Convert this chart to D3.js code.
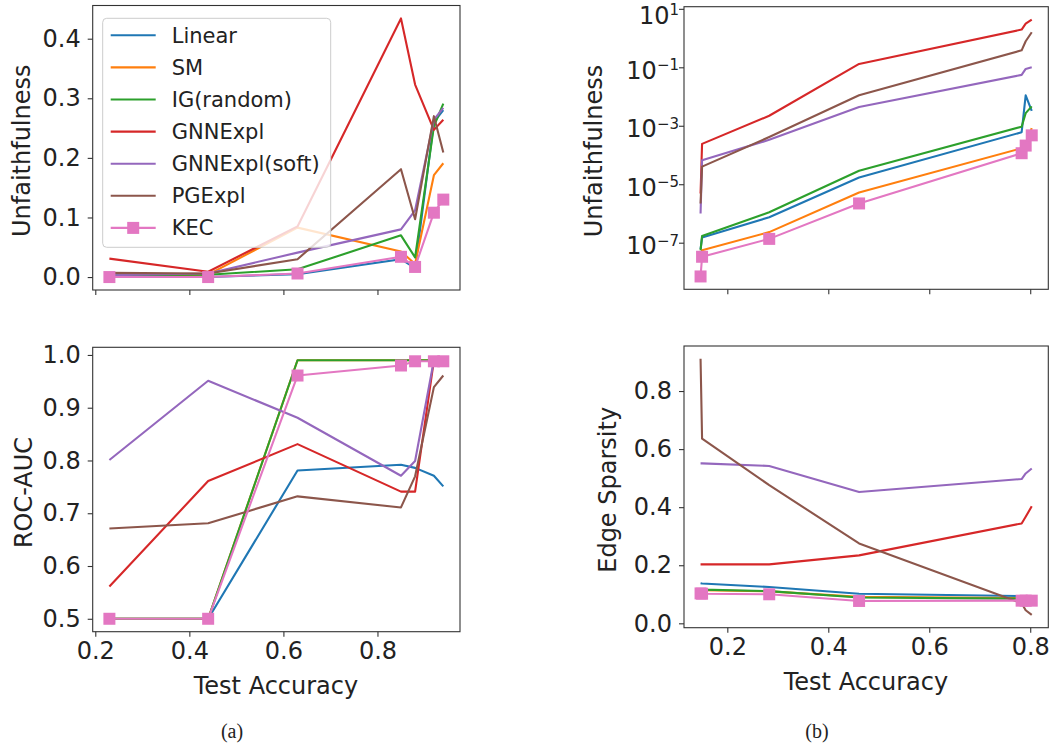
<!DOCTYPE html>
<html>
<head>
<meta charset="utf-8">
<script src="https://cdn.jsdelivr.net/npm/d3@7"></script>
<style>
  body { margin: 0; background: #fff; }
  text { font-family: "DejaVu Sans", sans-serif; fill: #222; }
</style>
</head>
<body>
<div id="chart"></div>
<script>
const methods = ["Linear", "SM", "IG(random)", "GNNExpl", "GNNExpl(soft)", "PGExpl", "KEC"];
const colors = ["#1f77b4", "#ff7f0e", "#2ca02c", "#d62728", "#9467bd", "#8c564b", "#e377c2"];

// test accuracy (x) for each setting
const accA = [0.23, 0.44, 0.63, 0.85, 0.88, 0.92, 0.94];
const accB = [0.147, 0.150, 0.283, 0.461, 0.783, 0.791, 0.803];

// one row per method, same order as `methods`
const unfaithA = [
  [0.0, 0.0, 0.005, 0.030, 0.015, 0.26, 0.28],
  [0.002, 0.004, 0.083, 0.043, 0.022, 0.171, 0.191],
  [0.003, 0.004, 0.013, 0.070, 0.033, 0.253, 0.291],
  [0.031, 0.009, 0.085, 0.434, 0.323, 0.247, 0.264],
  [0.003, 0.006, 0.041, 0.080, 0.112, 0.264, 0.284],
  [0.007, 0.006, 0.030, 0.181, 0.097, 0.270, 0.209],
  [0.0, 0.0, 0.006, 0.034, 0.017, 0.108, 0.130]
];
const rocA = [
  [0.5, 0.5, 0.781, 0.792, 0.786, 0.771, 0.751],
  [0.5, 0.5, 0.99, 0.99, 0.99, 0.99, 0.99],
  [0.5, 0.5, 0.99, 0.99, 0.99, 0.99, 0.99],
  [0.561, 0.761, 0.831, 0.741, 0.741, 0.99, 0.99],
  [0.801, 0.951, 0.881, 0.771, 0.799, 0.99, 0.99],
  [0.671, 0.681, 0.732, 0.711, 0.77, 0.939, 0.961],
  [0.5, 0.5, 0.961, 0.98, 0.988, 0.988, 0.988]
];
const unfaithB = [
  [6e-8, 1.5e-7, 7.4e-7, 1.7e-5, 6.0e-4, 1.1e-2, 3.2e-3],
  [2.2e-8, 5.5e-8, 2.3e-7, 5.2e-6, 1.7e-4, 2.3e-4, 8.3e-4],
  [5.5e-8, 1.7e-7, 1.1e-6, 2.9e-5, 9.3e-4, 2.7e-3, 4.6e-3],
  [4.8e-6, 2.4e-4, 2.2e-3, 0.13, 1.95, 3.1, 4.3],
  [1.0e-6, 6.6e-5, 3.3e-4, 4.4e-3, 0.055, 0.088, 0.10],
  [2.2e-6, 4.0e-5, 4.1e-4, 0.011, 0.38, 0.78, 1.58],
  [7.0e-9, 3.3e-8, 1.35e-7, 2.2e-6, 1.15e-4, 2.1e-4, 4.7e-4]
];
const sparsB = [
  [0.138, 0.137, 0.125, 0.102, 0.094, 0.094, 0.093],
  [0.115, 0.114, 0.110, 0.091, 0.087, 0.087, 0.086],
  [0.117, 0.116, 0.111, 0.089, 0.085, 0.085, 0.084],
  [0.203, 0.203, 0.203, 0.234, 0.344, 0.367, 0.403],
  [0.551, 0.551, 0.542, 0.452, 0.497, 0.516, 0.533],
  [0.911, 0.636, 0.476, 0.275, 0.069, 0.045, 0.029],
  [0.103, 0.102, 0.100, 0.077, 0.078, 0.078, 0.078]
];

const xTicks = [0.2, 0.4, 0.6, 0.8];
const logTicks = [1e1, 1e-1, 1e-3, 1e-5, 1e-7];

const W = 1051, H = 749;
const svg = d3.select("#chart").append("svg").attr("width", W).attr("height", H);

// pad a domain like matplotlib's 5% auto margins
const pad = ext => {
  const m = (ext[1] - ext[0]) * 0.05;
  return [ext[0] - m, ext[1] + m];
};
const padLog = ext => {
  const l0 = Math.log10(ext[0]), l1 = Math.log10(ext[1]);
  const m = (l1 - l0) * 0.05;
  return [Math.pow(10, l0 - m), Math.pow(10, l1 + m)];
};

const drawPanel = ({ box, xs, ys, log, yTicks, showX, yLabel, legend }) => {
  const g = svg.append("g");
  const x = d3.scaleLinear().domain(pad(d3.extent(xs))).range([box.x0, box.x1]);
  const all = ys.flat();
  const y = log
    ? d3.scaleLog().domain(padLog(d3.extent(all))).range([box.y1, box.y0])
    : d3.scaleLinear().domain(pad(d3.extent(all))).range([box.y1, box.y0]);

  const line = d3.line().x((d, i) => x(xs[i])).y(d => y(d));
  ys.forEach((row, k) => {
    g.append("path")
      .attr("d", line(row))
      .attr("fill", "none")
      .attr("stroke", colors[k])
      .attr("stroke-width", 2.1)
      .attr("stroke-linejoin", "round");
  });
  // KEC markers
  g.selectAll("rect.kec")
    .data(ys[6])
    .join("rect")
    .attr("x", (d, i) => x(xs[i]) - 6)
    .attr("y", d => y(d) - 6)
    .attr("width", 12)
    .attr("height", 12)
    .attr("fill", colors[6]);

  // x axis
  const xAxis = d3.axisBottom(x).tickValues(xTicks).tickSizeOuter(0).tickSize(5).tickPadding(4)
    .tickFormat(showX ? d3.format(".1f") : "");
  const gx = g.append("g").attr("transform", `translate(0,${box.y1})`).call(xAxis);
  gx.select(".domain").remove();
  gx.selectAll("line").attr("stroke", "#333").attr("stroke-width", 1.1);
  gx.selectAll("text").attr("font-size", 24).attr("fill", "#222")
    .attr("font-family", "DejaVu Sans").attr("dy", "0.78em");

  // y axis
  const yAxis = d3.axisLeft(y).tickValues(yTicks).tickSizeOuter(0).tickSize(5).tickPadding(7);
  if (!log) yAxis.tickFormat(d3.format(".1f"));
  const gy = g.append("g").attr("transform", `translate(${box.x0},0)`).call(yAxis);
  gy.select(".domain").remove();
  gy.selectAll("line").attr("stroke", "#333").attr("stroke-width", 1.1);
  gy.selectAll("text").attr("font-size", 24).attr("fill", "#222").attr("font-family", "DejaVu Sans");
  if (log) {
    gy.selectAll("text").each(function (d) {
      const e = Math.round(Math.log10(d));
      // keep the top label inside the page
      const dy = Math.max(11, 23 - y(d));
      const t = d3.select(this).text("").attr("x", -5).attr("dy", dy);
      t.append("tspan").text("10");
      t.append("tspan").attr("font-size", 15).attr("dy", -8.5)
        .text(e < 0 ? "\u2212" + (-e) : String(e));
    });
  }

  // frame
  g.append("rect")
    .attr("x", box.x0).attr("y", box.y0)
    .attr("width", box.x1 - box.x0).attr("height", box.y1 - box.y0)
    .attr("fill", "none").attr("stroke", "#333").attr("stroke-width", 1.1);

  // y label
  g.append("text")
    .attr("transform", `translate(${yLabel.x},${(box.y0 + box.y1) / 2 + 3}) rotate(-90)`)
    .attr("text-anchor", "middle")
    .attr("font-size", 24)
    .text(yLabel.text);

  if (legend) drawLegend(g, legend);
};

const drawLegend = (g, at) => {
  const lg = g.append("g");
  lg.append("rect")
    .attr("x", at.x).attr("y", at.y).attr("width", 228).attr("height", 229)
    .attr("rx", 4)
    .attr("fill", "#fff").attr("fill-opacity", 0.8)
    .attr("stroke", "#ccc").attr("stroke-width", 1);
  methods.forEach((m, k) => {
    const cy = at.y + 17 + k * 32.1;
    lg.append("line")
      .attr("x1", at.x + 8).attr("x2", at.x + 53)
      .attr("y1", cy).attr("y2", cy)
      .attr("stroke", colors[k]).attr("stroke-width", 2.1);
    if (k === 6) {
      lg.append("rect")
        .attr("x", at.x + 30.5 - 6).attr("y", cy - 6)
        .attr("width", 12).attr("height", 12).attr("fill", colors[k]);
    }
    lg.append("text")
      .attr("x", at.x + 69).attr("y", cy).attr("dy", "0.36em")
      .attr("font-size", 21)
      .text(m);
  });
};

drawPanel({
  box: { x0: 92.7, x1: 460, y0: 5.5, y1: 290 },
  xs: accA, ys: unfaithA, log: false,
  yTicks: [0, 0.1, 0.2, 0.3, 0.4], showX: false,
  yLabel: { x: 30, text: "Unfaithfulness" },
  legend: { x: 102.7, y: 18.3 }
});
drawPanel({
  box: { x0: 92.7, x1: 460, y0: 347.3, y1: 631.7 },
  xs: accA, ys: rocA, log: false,
  yTicks: [0.5, 0.6, 0.7, 0.8, 0.9, 1.0], showX: true,
  yLabel: { x: 32, text: "ROC-AUC" }
});
drawPanel({
  box: { x0: 684, x1: 1048.3, y0: 6.7, y1: 289.3 },
  xs: accB, ys: unfaithB, log: true,
  yTicks: logTicks, showX: false,
  yLabel: { x: 602, text: "Unfaithfulness" }
});
drawPanel({
  box: { x0: 684, x1: 1048.3, y0: 346, y1: 627.7 },
  xs: accB, ys: sparsB, log: false,
  yTicks: [0, 0.2, 0.4, 0.6, 0.8], showX: true,
  yLabel: { x: 616, text: "Edge Sparsity" }
});

// x labels and captions
svg.append("text").attr("x", 276).attr("y", 694).attr("text-anchor", "middle")
  .attr("font-size", 24).text("Test Accuracy");
svg.append("text").attr("x", 866).attr("y", 690).attr("text-anchor", "middle")
  .attr("font-size", 24).text("Test Accuracy");
svg.append("text").attr("x", 232).attr("y", 738).attr("text-anchor", "middle")
  .attr("font-size", 20).style("font-family", "'Liberation Serif', serif").text("(a)");
svg.append("text").attr("x", 817).attr("y", 738).attr("text-anchor", "middle")
  .attr("font-size", 20).style("font-family", "'Liberation Serif', serif").text("(b)");
</script>
</body>
</html>
